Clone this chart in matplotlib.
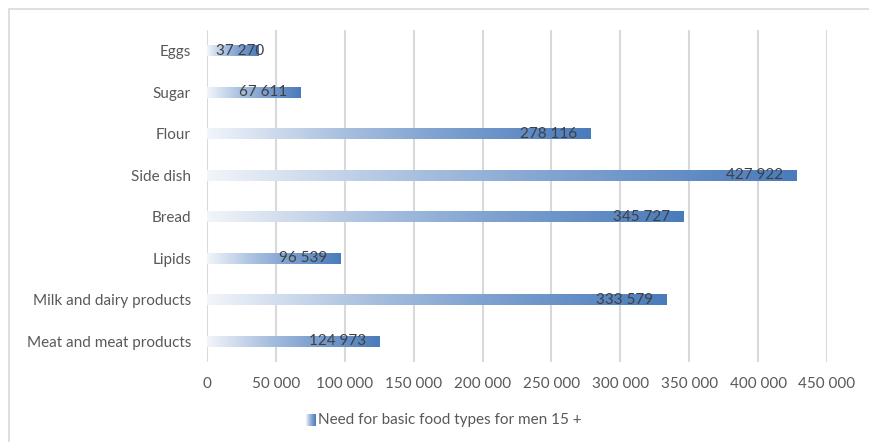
import numpy as np
import matplotlib
matplotlib.use("Agg")
import matplotlib.pyplot as plt
from matplotlib.colors import LinearSegmentedColormap
from matplotlib.patches import Rectangle

categories = ["Meat and meat products", "Milk and dairy products", "Lipids", "Bread",
              "Side dish", "Flour", "Sugar", "Eggs"]
values = [124973, 333579, 96539, 345727, 427922, 278116, 67611, 37270]
xticks = [0, 50000, 100000, 150000, 200000, 250000, 300000, 350000, 400000, 450000]
series_name = "Need for basic food types for men 15 +"

plt.rcParams['font.family'] = ['Lato', 'DejaVu Sans']

def fmt(v):
    return f"{v:,}".replace(",", " ")

W, H = 869, 442
fig = plt.figure(figsize=(W/100, H/100), dpi=100)
fig.patches.append(Rectangle((8.5/W, -0.1), 1.2, 1.1 - 9.5/H, transform=fig.transFigure,
                             fill=False, edgecolor='#d9d9d9', linewidth=1.2))

ax = fig.add_axes([207/W, 1-362/H, (827-207)/W, (362-30)/H])
cmap = LinearSegmentedColormap.from_list("g", [(0, "#f2f5fa"), (0.35, "#a9c0df"),
                                              (0.6, "#7fa2d0"), (1, "#4a7bbb")])
grad = np.linspace(0, 1, 256).reshape(1, -1)

ypos = np.arange(len(categories))
bars = ax.barh(ypos, values, height=0.26, color='none', edgecolor='none', zorder=3)
for b in bars:
    x0, y0, w, h = b.get_x(), b.get_y(), b.get_width(), b.get_height()
    ax.imshow(grad, cmap=cmap, aspect='auto', extent=[x0, x0 + w, y0, y0 + h],
              zorder=3, interpolation='bilinear')

# data labels (inside end)
px = 450000 / 620.0
for y, v in zip(ypos, values):
    s = fmt(v)
    right = max(v - 13 * px, 57 * px)
    ax.text(right, y, s, ha='right', va='center', fontsize=11, color='#404040', zorder=5)

ax.set_xlim(0, 450000)
ax.set_ylim(-0.5, len(categories) - 0.5)
ax.set_xticks(xticks)
ax.set_xticklabels([fmt(t) for t in xticks])
ax.set_yticks(ypos)
ax.set_yticklabels(categories)
ax.tick_params(axis='both', length=0, labelsize=11, labelcolor='#595959')
ax.tick_params(axis='x', pad=11)
ax.tick_params(axis='y', pad=11.5)
ax.grid(axis='x', color='#d9d9d9', linewidth=1.5, zorder=0)
ax.set_axisbelow(True)
for sp in ax.spines.values():
    sp.set_visible(False)

# legend
lax = fig.add_axes([306/W, 1-426/H, 10/W, 12/H])
lax.imshow(grad, cmap=cmap, aspect='auto', interpolation='bilinear')
lax.axis('off')
fig.text(318/W, 1-420/H, series_name, ha='left', va='center', fontsize=11, color='#595959')

fig.savefig("out.png", dpi=100)
